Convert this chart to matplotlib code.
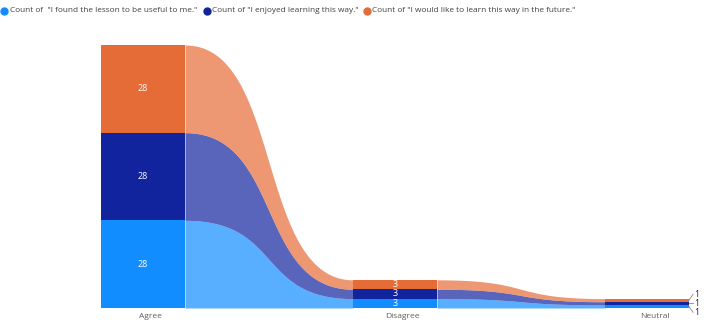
import numpy as np
import matplotlib.pyplot as plt

# Survey responses per answer
categories = ['Agree', 'Disagree', 'Neutral']
useful = [28, 3, 1]
enjoyed = [28, 3, 1]
future = [28, 3, 1]

series_names = ['Count of  "I found the lesson to be useful to me."',
                'Count of "I enjoyed learning this way."',
                'Count of "I would like to learn this way in the future."']
colors = ['#118DFF', '#12239E', '#E66C37']
series = [useful, enjoyed, future]

plt.rcParams['font.family'] = ['Open Sans', 'DejaVu Sans']

fig = plt.figure(figsize=(7.06, 3.24), dpi=100)
ax = fig.add_axes([0, 0, 1, 1])
ax.set_xlim(-143 / 252, (706 - 143) / 252)
ppu = 263 / 84
ax.set_ylim(-16 / ppu, 308 / ppu)
ax.axis('off')

half = 1 / 6
x = np.arange(len(categories))
values = np.array(series, dtype=float)
tops = np.cumsum(values, axis=0)
bottoms = tops - values

# stacked bars
for s in range(len(series)):
    ax.bar(x, values[s], width=2 * half, bottom=bottoms[s], color=colors[s],
           linewidth=0, zorder=2)

# ribbons between neighbouring categories (cubic bezier, flat handles)
c = 0.58
t = np.linspace(0, 1, 200)
bx = 3 * (1 - t) ** 2 * t * c + 3 * (1 - t) * t ** 2 * (1 - c) + t ** 3
by = 3 * (1 - t) * t ** 2 + t ** 3
for i in range(len(categories) - 1):
    xs = i + half + (1 - 2 * half) * bx
    for s in range(len(series)):
        lo = bottoms[s, i] + (bottoms[s, i + 1] - bottoms[s, i]) * by
        hi = tops[s, i] + (tops[s, i + 1] - tops[s, i]) * by
        ax.fill_between(xs, lo, hi, color=colors[s], alpha=0.7, linewidth=0,
                        zorder=1)

# data labels
for i in range(len(categories)):
    for s in range(len(series)):
        v = values[s, i]
        mid = bottoms[s, i] + v / 2
        if v >= 3:
            ax.text(x[i], mid, f'{int(v)}', color='white', fontsize=6.5,
                    ha='center', va='center', zorder=3)
        else:
            ly = mid + (s - 1) * 1.9
            ax.plot([x[i] + half, x[i] + half + 0.016], [mid, ly],
                    color='#888888', linewidth=0.6, zorder=3)
            ax.text(x[i] + half + 0.02, ly, f'{int(v)}', color='#252423',
                    fontsize=6.3, ha='left', va='center', zorder=3)

# category labels
for i, name in enumerate(categories):
    ax.text(x[i] + 0.03, -9 / ppu, name, color='#605E5C', fontsize=6,
            ha='center', va='center')

# legend across the top
legend_x = [4, 207, 367]
for s in range(len(series)):
    fig.lines.append(plt.Line2D([legend_x[s] / 706], [1 - 11 / 324],
                                marker='o', markersize=5, color=colors[s],
                                linestyle='none', transform=fig.transFigure))
    fig.text((legend_x[s] + 5.5) / 706, 1 - 11 / 324, series_names[s],
             color='#404040', fontsize=5.95, ha='left', va='center')

fig.savefig('out.png', dpi=100)
